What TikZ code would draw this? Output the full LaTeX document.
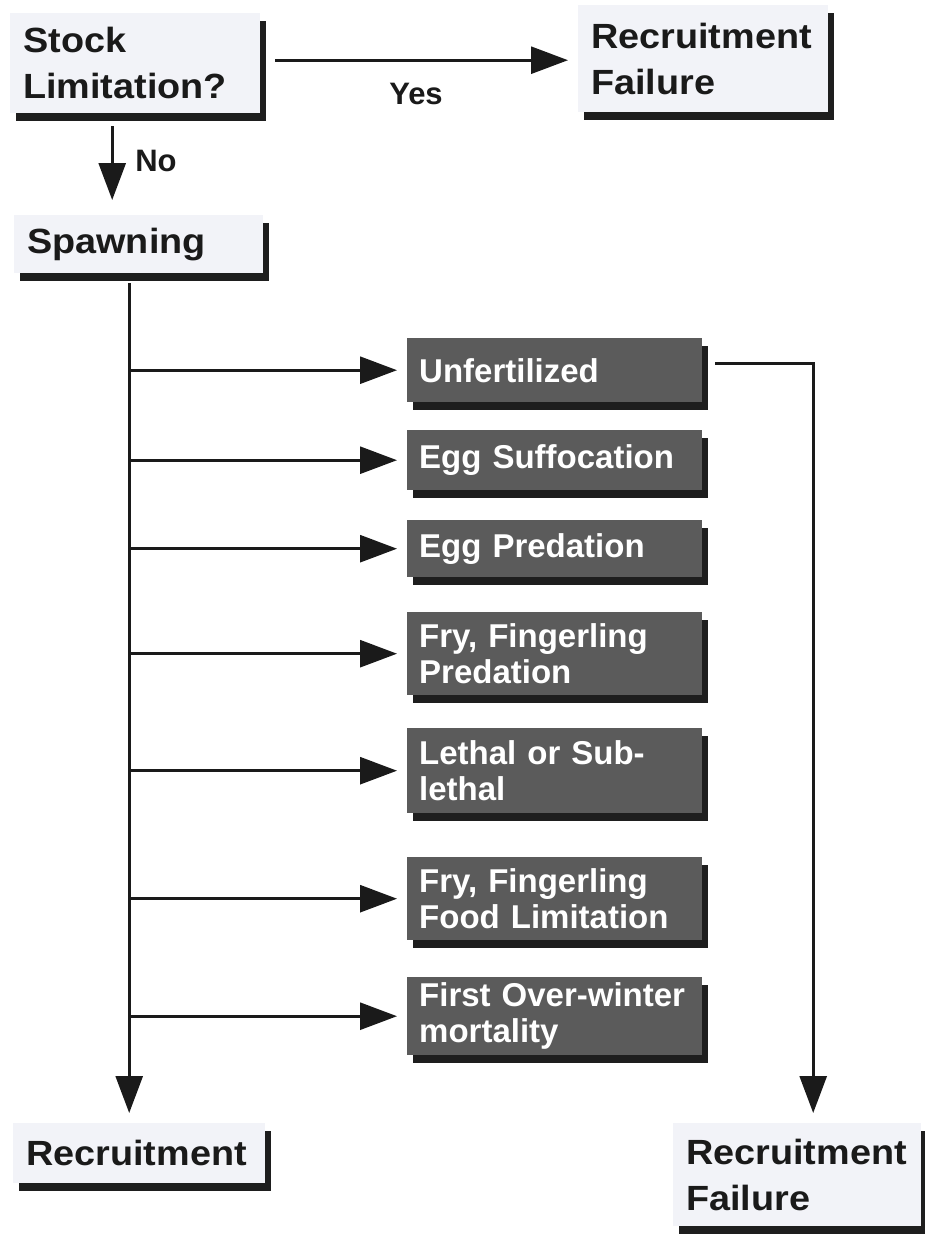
\documentclass[tikz,border=0pt]{standalone}
\usepackage{fontspec}
\setmainfont{Liberation Sans}
\newfontfamily\bkfont{Liberation Sans}[FakeStretch=1.08]
\usetikzlibrary{arrows.meta,shadows,calc}
\definecolor{lightbox}{HTML}{F2F3F8}
\definecolor{darkbox}{HTML}{5B5B5B}
\definecolor{shadowc}{HTML}{1E1E1E}
\definecolor{inkc}{HTML}{1A1A1A}
\begin{document}
\begin{tikzpicture}[x=1pt,y=-1pt,
  boxshadow/.style={drop shadow={shadow xshift=6pt, shadow yshift=-8pt, opacity=1, fill=shadowc}},
  lightnode/.style={anchor=north west, fill=lightbox, text=inkc, inner xsep=13pt, inner ysep=0pt, align=left,
    font=\bkfont\bfseries\fontsize{35}{46}\selectfont, boxshadow},
  darknode/.style={anchor=north west, fill=darkbox, text=white, inner xsep=12pt, inner ysep=0pt, align=left,
    text width=271pt, font=\bfseries\fontsize{33}{36}\selectfont, boxshadow},
  arr/.style={draw=inkc, line width=2.8pt, -{Triangle[length=37pt,width=27pt]}},
  lbl/.style={text=inkc, font=\bfseries\fontsize{31}{36}\selectfont}
]
\fill[white] (0,0) rectangle (925,1237);
\clip (0,0) rectangle (925,1237);

\node[lightnode, text width=224pt, minimum height=100pt] (stock) at (10,13) {Stock\\Limitation?};
\node[lightnode, text width=224pt, minimum height=107pt] (rf1) at (578,5) {Recruitment\\Failure};
\node[lightnode, text width=223pt, minimum height=58pt] (spawn) at (14,215) {Spawning};

\node[darknode, minimum height=64pt] (unf) at (407,338) {Unfertilized};
\node[darknode, minimum height=60pt] (eggs) at (407,430) {Egg Suffocation};
\node[darknode, minimum height=57pt] (eggp) at (407,520) {Egg Predation};
\node[darknode, minimum height=83pt] (fryp) at (407,612) {Fry, Fingerling\\Predation};
\node[darknode, minimum height=85pt] (leth) at (407,728) {Lethal or Sub-\\lethal};
\node[darknode, minimum height=83pt] (fryf) at (407,857) {Fry, Fingerling\\Food Limitation};
\node[darknode, minimum height=78pt] (fow) at (407,977) {First Over-winter\\mortality};

\node[lightnode, text width=226pt, minimum height=60pt] (recr) at (13,1123) {Recruitment};
\node[lightnode, text width=222pt, minimum height=103pt] (rf2) at (673,1123) {Recruitment\\Failure};

\draw[arr] ([xshift=15pt,yshift=3pt]stock.east) -- ([xshift=-10pt,yshift=3pt]stock.east -| rf1.west);
\node[lbl] (yes) at (416,94) {Yes};
\draw[arr] ([xshift=-23pt,yshift=-13pt]stock.south) -- ([xshift=-23pt,yshift=15pt]stock.south |- spawn.north);
\node[lbl] (no) at (156,161) {No};

\coordinate (trunk) at ([xshift=-9.5pt,yshift=-10pt]spawn.south);
\draw[arr] (trunk) -- ([yshift=10pt]trunk |- recr.north);
\foreach \n in {unf,eggs,eggp,fryp,leth,fryf,fow}
  \draw[arr] (trunk |- \n.west) -- ([xshift=-10pt]\n.west);
\draw[arr] ([xshift=13pt,yshift=7pt]unf.east) -| ([xshift=16pt,yshift=10pt]rf2.north);
\end{tikzpicture}
\end{document}
